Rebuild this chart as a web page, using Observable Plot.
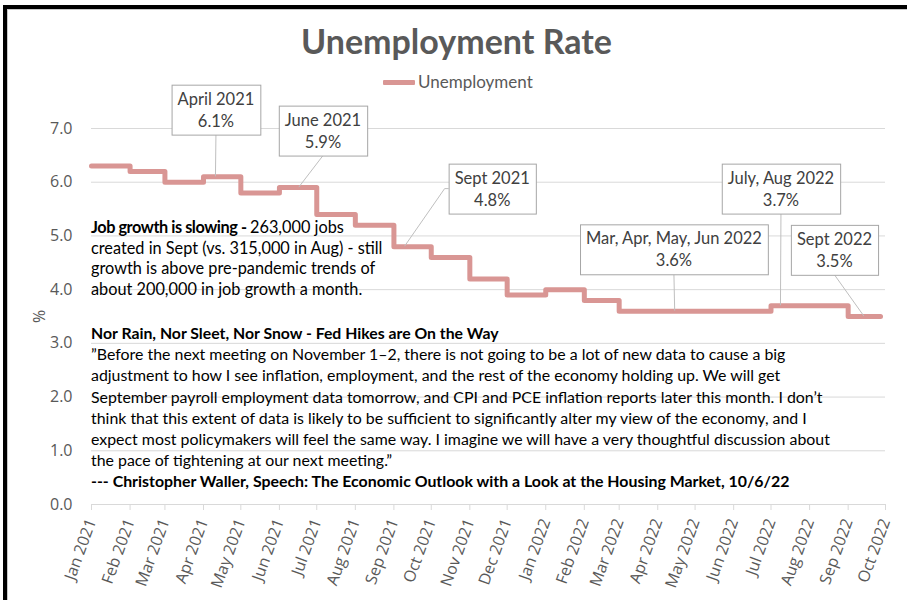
<!DOCTYPE html>
<html>
<head>
<meta charset="utf-8">
<script src="https://cdn.jsdelivr.net/npm/d3@7"></script>
<script src="https://cdn.jsdelivr.net/npm/@observablehq/plot@0.6"></script>
<style>
  body { margin: 0; background: #fff; }
  #wrap { position: relative; width: 907px; height: 600px; overflow: hidden; background: #fff; font-family: Lato, sans-serif; }
  #chart { position: absolute; left: 0; top: 0; }
  .abs { position: absolute; white-space: nowrap; }
  #title { left: 0; width: 913px; top: 21px; text-align: center; font-weight: 700; font-size: 34px; line-height: 40px; color: #595959; }
  #legsw { left: 383px; top: 80px; width: 32px; height: 5px; background: #D99694; border-radius: 1px; }
  #legtx { left: 418px; top: 71px; font-size: 17px; line-height: 22px; color: #595959; }
  #note1 { left: 91px; top: 217px; font-size: 16.3px; line-height: 20.7px; color: #000; }
  #note1 b { letter-spacing: -0.45px; }
  #note2 { left: 91px; top: 322px; font-size: 15.9px; line-height: 21.2px; color: #000; }
  #note2 .head { font-size: 15.8px; }
  #note2 .src { font-size: 15.9px; }
  #bl { left: 3px; top: 5px; width: 904px; height: 595px; border-left: 4px solid #000; border-top: 4px solid #000; box-sizing: border-box; }
  #bl2 { left: 7px; top: 9px; width: 900px; height: 591px; border-left: 1px solid #c8c8c8; border-top: 1px solid #c8c8c8; box-sizing: border-box; }
  #chart [aria-label="x-axis tick"] { stroke: #d9d9d9; }
</style>
</head>
<body>
<div id="wrap">
  <div id="title" class="abs"></div>
  <div id="legsw" class="abs"></div>
  <div id="legtx" class="abs"></div>
  <div id="note1" class="abs"></div>
  <div id="note2" class="abs"></div>
  <div id="bl" class="abs"></div>
  <div id="bl2" class="abs"></div>
</div>
<script>
// ---- data ----
const titleText = "Unemployment Rate";
const seriesName = "Unemployment";
const months = ["2021-01-01","2021-02-01","2021-03-01","2021-04-01","2021-05-01","2021-06-01","2021-07-01","2021-08-01","2021-09-01","2021-10-01","2021-11-01","2021-12-01","2022-01-01","2022-02-01","2022-03-01","2022-04-01","2022-05-01","2022-06-01","2022-07-01","2022-08-01","2022-09-01"];
const rates = [6.3, 6.2, 6.0, 6.1, 5.8, 5.9, 5.4, 5.2, 4.8, 4.6, 4.2, 3.9, 4.0, 3.8, 3.6, 3.6, 3.6, 3.6, 3.7, 3.7, 3.5];
const seriesEnd = "2022-09-27";
const xDomain = ["2021-01-01", "2022-10-01"];
const xTickDates = ["2021-01-01","2021-02-01","2021-03-01","2021-04-01","2021-05-01","2021-06-01","2021-07-01","2021-08-01","2021-09-01","2021-10-01","2021-11-01","2021-12-01","2022-01-01","2022-02-01","2022-03-01","2022-04-01","2022-05-01","2022-06-01","2022-07-01","2022-08-01","2022-09-01","2022-10-01"];
const xTickLabels = ["Jan 2021","Feb 2021","Mar 2021","Apr 2021","May 2021","Jun 2021","Jul 2021","Aug 2021","Sep 2021","Oct 2021","Nov 2021","Dec 2021","Jan 2022","Feb 2022","Mar 2022","Apr 2022","May 2022","Jun 2022","Jul 2022","Aug 2022","Sep 2022","Oct 2022"];
const yTicks = [0, 1, 2, 3, 4, 5, 6, 7];
const yTickLabels = ["0.0","1.0","2.0","3.0","4.0","5.0","6.0","7.0"];
const yLabel = "%";

const calloutLines = [["April 2021","6.1%"],["June 2021","5.9%"],["Sept 2021","4.8%"],["Mar, Apr, May, Jun 2022","3.6%"],["July, Aug 2022","3.7%"],["Sept 2022","3.5%"]];
const calloutPointDates = ["2021-04-11","2021-06-17","2021-09-10","2022-04-15","2022-07-09","2022-09-14"];
const calloutPointValues = [6.1, 5.9, 4.8, 3.6, 3.7, 3.5];
const calloutBoxDates = ["2021-04-11","2021-07-06","2021-11-19","2022-04-14","2022-07-09","2022-08-21"];
const calloutBoxValues = [7.37, 6.98, 5.90, 4.77, 5.90, 4.76];
const calloutSides = ["bottom","bottom","left","bottom","bottom","bottom"];

const note1Bold = "Job growth is slowing - ";
const note1Lines = ["263,000 jobs", "created in Sept (vs. 315,000 in Aug) - still", "growth is above pre-pandemic trends of", "about 200,000 in job growth a month."];
const note2Head = "Nor Rain, Nor Sleet, Nor Snow - Fed Hikes are On the Way";
const note2Lines = [
  "\u201DBefore the next meeting on November 1\u20132, there is not going to be a lot of new data to cause a big",
  "adjustment to how I see inflation, employment, and the rest of the economy holding up. We will get",
  "September payroll employment data tomorrow, and CPI and PCE inflation reports later this month. I don\u2019t",
  "think that this extent of data is likely to be sufficient to significantly alter my view of the economy, and I",
  "expect most policymakers will feel the same way. I imagine we will have a very thoughtful discussion about",
  "the pace of tightening at our next meeting.\u201D"
];
const note2Source = "--- Christopher Waller, Speech: The Economic Outlook with a Look at the Housing Market, 10/6/22";

// ---- build ----
const parse = d3.utcParse("%Y-%m-%d");
const series = months.map((m, i) => ({date: parse(m), value: rates[i]}));
series.push({date: parse(seriesEnd), value: rates[rates.length - 1]});
const tickDates = xTickDates.map(parse);
const callouts = calloutLines.map((l, i) => ({
  text: l.join("\n"),
  pdate: parse(calloutPointDates[i]), pvalue: calloutPointValues[i],
  bdate: parse(calloutBoxDates[i]), bvalue: calloutBoxValues[i],
  side: calloutSides[i]
}));

document.getElementById("title").textContent = titleText;
document.getElementById("legtx").textContent = seriesName;
const n1 = document.getElementById("note1");
{
  const b = document.createElement("b"); b.textContent = note1Bold; n1.appendChild(b);
  note1Lines.forEach((t, i) => { if (i > 0) n1.appendChild(document.createElement("br")); n1.appendChild(document.createTextNode(t)); });
}
const n2 = document.getElementById("note2");
{
  const b = document.createElement("b"); b.className = "head"; b.textContent = note2Head; n2.appendChild(b);
  note2Lines.forEach(t => { n2.appendChild(document.createElement("br")); n2.appendChild(document.createTextNode(t)); });
  n2.appendChild(document.createElement("br"));
  const b2 = document.createElement("b"); b2.className = "src"; b2.textContent = note2Source; n2.appendChild(b2);
}

const chart = Plot.plot({
  width: 907,
  height: 600,
  marginLeft: 91,
  marginRight: 22,
  marginTop: 128,
  marginBottom: 96,
  style: {fontFamily: "'Open Sans', sans-serif", fontSize: "16px", color: "#595959", background: "transparent", overflow: "visible"},
  x: {type: "utc", domain: xDomain.map(parse), ticks: tickDates, tickFormat: d => xTickLabels[tickDates.findIndex(t => +t === +d)], tickRotate: -70, tickSize: 6, tickPadding: 9, label: null},
  y: {domain: [0, 7], ticks: yTicks, tickFormat: d => yTickLabels[yTicks.indexOf(d)], tickSize: 0, tickPadding: 19, label: yLabel, labelAnchor: "center", labelOffset: 58, labelArrow: "none"},
  marks: [
    Plot.gridY(yTicks, {stroke: "#d9d9d9", strokeOpacity: 1}),
    Plot.line(series, {x: "date", y: "value", curve: "step-after", stroke: "#D99694", strokeWidth: 5, strokeLinejoin: "round"}),
    Plot.text(callouts, {x: "bdate", y: "bvalue", text: "text", fill: "#404040", fontSize: 16.5, fontFamily: "Lato", lineHeight: 1.33, ariaLabel: () => "callout"})
  ]
});
chart.id = "chart";
document.getElementById("wrap").insertBefore(chart, document.getElementById("title"));

// callout boxes and leader lines, positioned through Plot's scales
const sx = chart.scale("x"), sy = chart.scale("y");
const svgRect = chart.getBoundingClientRect();
const texts = Array.from(chart.querySelectorAll('text[aria-label="callout"]'));
const ns = "http://www.w3.org/2000/svg";
if (texts.length) {
  const calloutG = texts[0].parentNode;
  const leaderG = document.createElementNS(ns, "g");
  calloutG.parentNode.insertBefore(leaderG, calloutG);
  texts.forEach((t, i) => {
    const c = callouts[i];
    const r = t.getBoundingClientRect();
    const x0 = r.left - svgRect.left - 6, y0 = r.top - svgRect.top - 4;
    const w = r.width + 12, h = r.height + 8;
    const rect = document.createElementNS(ns, "rect");
    rect.setAttribute("x", x0); rect.setAttribute("y", y0);
    rect.setAttribute("width", w); rect.setAttribute("height", h);
    rect.setAttribute("fill", "#fff"); rect.setAttribute("stroke", "#a6a6a6"); rect.setAttribute("stroke-width", 1);
    t.parentNode.insertBefore(rect, t);
    const px = sx.apply(c.pdate), py = sy.apply(c.pvalue);
    let pts;
    if (c.side === "left") pts = [[x0, y0 + h / 2], [x0 - 4, y0 + h / 2], [px, py]];
    else pts = [[x0 + w / 2, y0 + h], [px, py]];
    const pl = document.createElementNS(ns, "polyline");
    pl.setAttribute("points", pts.map(p => p.join(",")).join(" "));
    pl.setAttribute("fill", "none"); pl.setAttribute("stroke", "#bfbfbf"); pl.setAttribute("stroke-width", 1);
    leaderG.appendChild(pl);
  });
}
</script>
</body>
</html>
